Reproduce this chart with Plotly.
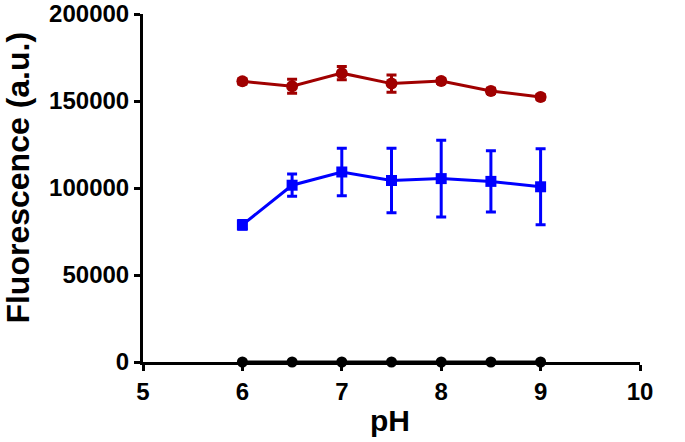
import plotly.graph_objects as go

ph = [6, 6.5, 7, 7.5, 8, 8.5, 9]
red_vals = [161300, 158500, 166000, 160000, 161500, 155800, 152300]
red_err = [1500, 4000, 3800, 5000, 1500, 1500, 1500]
blue_vals = [78800, 101600, 109200, 104300, 105400, 103800, 100700]
blue_err = [2500, 6400, 13600, 18500, 22000, 17600, 21800]
black_vals = [0, 0, 0, 0, 0, 0, 0]

x_ticks = [5, 6, 7, 8, 9, 10]
y_ticks = [0, 50000, 100000, 150000, 200000]

fig = go.Figure()
fig.add_trace(go.Scatter(
    x=ph, y=black_vals, mode="lines+markers",
    line=dict(color="black", width=3),
    marker=dict(symbol="circle", size=11, color="black"),
    cliponaxis=False))
fig.add_trace(go.Scatter(
    x=ph, y=blue_vals, mode="lines+markers",
    line=dict(color="#0000ff", width=3),
    marker=dict(symbol="square", size=11, color="#0000ff"),
    error_y=dict(type="data", array=blue_err, color="#0000ff", thickness=3, width=5),
    cliponaxis=False))
fig.add_trace(go.Scatter(
    x=ph, y=red_vals, mode="lines+markers",
    line=dict(color="#a00000", width=3),
    marker=dict(symbol="circle", size=12, color="#a00000"),
    error_y=dict(type="data", array=red_err, color="#a00000", thickness=3, width=5),
    cliponaxis=False))

font_fam = "Liberation Sans, Arial, sans-serif"
fig.update_layout(
    width=685, height=442,
    margin=dict(l=143, r=45, t=14, b=80, autoexpand=False),
    plot_bgcolor="white", paper_bgcolor="white",
    showlegend=False,
    font=dict(family=font_fam, color="black"),
    xaxis=dict(
        range=[5, 10], tickvals=x_ticks, ticktext=[str(v) for v in x_ticks],
        showgrid=False, zeroline=False, showline=True, linecolor="black", linewidth=3,
        ticks="outside", ticklen=6, tickwidth=3, tickcolor="black",
        tickfont=dict(size=24, family=font_fam, weight="bold"),
        ticklabeloverflow="allow",
        automargin=False,
    ),
    yaxis=dict(
        range=[0, 200000], tickvals=y_ticks, ticktext=[str(v) for v in y_ticks],
        showgrid=False, zeroline=False, showline=True, linecolor="black", linewidth=3,
        ticks="outside", ticklen=6, tickwidth=3, tickcolor="black",
        tickfont=dict(size=24, family=font_fam, weight="bold"),
        ticklabeloverflow="allow",
        automargin=False,
    ),
    annotations=[
        dict(text="<b>Fluorescence (a.u.)</b>", xref="paper", yref="paper",
             x=-0.2515, y=0.53, xanchor="center", yanchor="middle", textangle=-90,
             showarrow=False, font=dict(size=32, family=font_fam, color="black")),
        dict(text="<b>pH</b>", xref="paper", yref="paper",
             x=0.497, y=-0.168, xanchor="center", yanchor="middle",
             showarrow=False, font=dict(size=30, family=font_fam, color="black")),
    ],
)
fig.write_html("out.html", config={"displayModeBar": False},
               post_script="document.body.style.margin='0';document.body.style.padding='0';")
